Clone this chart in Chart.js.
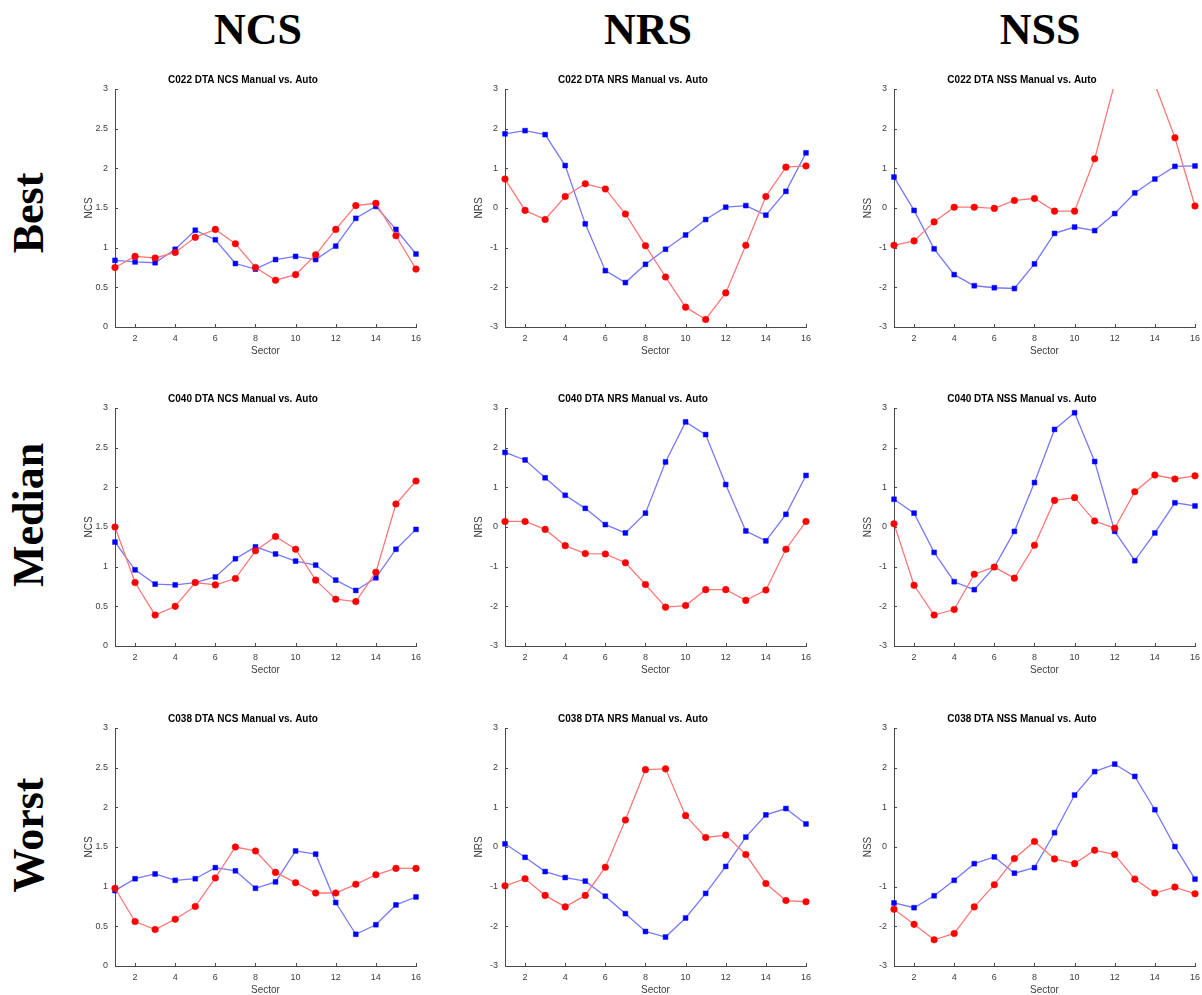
<!DOCTYPE html>
<html>
<head>
<meta charset="utf-8">
<title>DTA Manual vs. Auto</title>
<script src="https://cdn.jsdelivr.net/npm/chart.js@4.4.1/dist/chart.umd.min.js"></script>
<style>
  body {
    margin: 0;
    width: 1202px;
    height: 995px;
    position: relative;
    overflow: hidden;
    background: #fff;
  }
  .col-head, .row-head {
    position: absolute;
    font: bold 44px "Liberation Serif", "Times New Roman", serif;
    line-height: 44px;
    white-space: nowrap;
    color: #000;
  }
  .col-head { top: 8px; transform: translateX(-50%); }
  .row-head { left: 29px; transform: translate(-50%, -50%) rotate(-90deg); }
  canvas { position: absolute; }
</style>
</head>
<body>

<div class="col-head" style="left:258px">NCS</div>
<div class="col-head" style="left:648px">NRS</div>
<div class="col-head" style="left:1040px">NSS</div>
<div class="row-head" style="top:213px">Best</div>
<div class="row-head" style="top:515px">Median</div>
<div class="row-head" style="top:835px">Worst</div>

<canvas id="c00" width="358" height="295"></canvas>
<canvas id="c01" width="358" height="295"></canvas>
<canvas id="c02" width="358" height="295"></canvas>
<canvas id="c10" width="358" height="295"></canvas>
<canvas id="c11" width="358" height="295"></canvas>
<canvas id="c12" width="358" height="295"></canvas>
<canvas id="c20" width="358" height="295"></canvas>
<canvas id="c21" width="358" height="295"></canvas>
<canvas id="c22" width="358" height="295"></canvas>

<script>
// --- data ---
const sectors = [1, 2, 3, 4, 5, 6, 7, 8, 9, 10, 11, 12, 13, 14, 15, 16];
const xTicks = [2, 4, 6, 8, 10, 12, 14, 16];
const ncsTicks = [0, 0.5, 1, 1.5, 2, 2.5, 3];
const signedTicks = [-3, -2, -1, 0, 1, 2, 3];

// Best case: C022
const ncsBestManual = [0.84, 0.82, 0.81, 0.98, 1.22, 1.10, 0.80, 0.73, 0.85, 0.89, 0.85, 1.02, 1.37, 1.52, 1.23, 0.92];
const ncsBestAuto   = [0.75, 0.89, 0.87, 0.94, 1.13, 1.23, 1.05, 0.75, 0.59, 0.66, 0.91, 1.23, 1.53, 1.56, 1.15, 0.73];
const nrsBestManual = [1.87, 1.95, 1.85, 1.07, -0.40, -1.58, -1.88, -1.42, -1.04, -0.68, -0.29, 0.02, 0.06, -0.18, 0.42, 1.39];
const nrsBestAuto   = [0.73, -0.06, -0.29, 0.29, 0.61, 0.48, -0.15, -0.95, -1.74, -2.50, -2.81, -2.14, -0.94, 0.29, 1.03, 1.06];
const nssBestManual = [0.78, -0.06, -1.03, -1.68, -1.96, -2.01, -2.03, -1.41, -0.64, -0.48, -0.57, -0.14, 0.38, 0.73, 1.05, 1.06];
const nssBestAuto   = [-0.94, -0.83, -0.35, 0.02, 0.02, -0.01, 0.19, 0.24, -0.08, -0.08, 1.24, 3.15, 4.0, 3.12, 1.77, 0.05];

// Median case: C040
const ncsMedianManual = [1.31, 0.96, 0.78, 0.77, 0.80, 0.87, 1.10, 1.25, 1.16, 1.07, 1.02, 0.83, 0.70, 0.86, 1.22, 1.47];
const ncsMedianAuto   = [1.50, 0.80, 0.39, 0.50, 0.80, 0.77, 0.85, 1.20, 1.38, 1.22, 0.83, 0.59, 0.56, 0.93, 1.79, 2.08];
const nrsMedianManual = [1.88, 1.69, 1.24, 0.80, 0.47, 0.06, -0.15, 0.35, 1.64, 2.65, 2.33, 1.07, -0.10, -0.35, 0.32, 1.30];
const nrsMedianAuto   = [0.14, 0.14, -0.06, -0.47, -0.67, -0.68, -0.90, -1.45, -2.02, -1.98, -1.58, -1.58, -1.85, -1.59, -0.56, 0.14];
const nssMedianManual = [0.70, 0.35, -0.64, -1.38, -1.58, -1.01, -0.11, 1.12, 2.46, 2.88, 1.65, -0.11, -0.85, -0.15, 0.61, 0.53];
const nssMedianAuto   = [0.08, -1.47, -2.22, -2.08, -1.19, -1.01, -1.29, -0.46, 0.67, 0.74, 0.15, -0.03, 0.89, 1.31, 1.21, 1.29];

// Worst case: C038
const ncsWorstManual = [0.95, 1.10, 1.16, 1.08, 1.10, 1.24, 1.20, 0.98, 1.06, 1.45, 1.41, 0.80, 0.40, 0.52, 0.77, 0.87];
const ncsWorstAuto   = [0.98, 0.56, 0.46, 0.59, 0.75, 1.11, 1.50, 1.45, 1.18, 1.05, 0.92, 0.92, 1.03, 1.15, 1.23, 1.23];
const nrsWorstManual = [0.08, -0.26, -0.62, -0.77, -0.86, -1.24, -1.68, -2.13, -2.27, -1.79, -1.17, -0.49, 0.25, 0.81, 0.97, 0.58];
const nrsWorstAuto   = [-0.98, -0.80, -1.22, -1.51, -1.22, -0.51, 0.68, 1.95, 1.97, 0.79, 0.24, 0.30, -0.19, -0.92, -1.35, -1.38];
const nssWorstManual = [-1.41, -1.53, -1.23, -0.84, -0.42, -0.25, -0.66, -0.52, 0.36, 1.31, 1.90, 2.09, 1.78, 0.94, 0.01, -0.81];
const nssWorstAuto   = [-1.57, -1.95, -2.34, -2.18, -1.51, -0.95, -0.29, 0.14, -0.30, -0.42, -0.08, -0.19, -0.81, -1.16, -1.01, -1.18];

// --- layout ---
const axisColor = '#4a4a4a';
const sansFont = '"Liberation Sans", Arial, Helvetica, sans-serif';
const plotLefts = [115, 505, 894];   // left axis line of each column
const plotTops = [89, 408, 728];     // top (y max) of each row
const yBoxWidth = 45;
const titleBoxHeight = 28;

const panels = [
    { id: 'c00', row: 0, col: 0, title: 'C022 DTA NCS Manual vs. Auto', yLabel: 'NCS', ticks: ncsTicks, manual: ncsBestManual, auto: ncsBestAuto },
    { id: 'c01', row: 0, col: 1, title: 'C022 DTA NRS Manual vs. Auto', yLabel: 'NRS', ticks: signedTicks, manual: nrsBestManual, auto: nrsBestAuto },
    { id: 'c02', row: 0, col: 2, title: 'C022 DTA NSS Manual vs. Auto', yLabel: 'NSS', ticks: signedTicks, manual: nssBestManual, auto: nssBestAuto },
    { id: 'c10', row: 1, col: 0, title: 'C040 DTA NCS Manual vs. Auto', yLabel: 'NCS', ticks: ncsTicks, manual: ncsMedianManual, auto: ncsMedianAuto },
    { id: 'c11', row: 1, col: 1, title: 'C040 DTA NRS Manual vs. Auto', yLabel: 'NRS', ticks: signedTicks, manual: nrsMedianManual, auto: nrsMedianAuto },
    { id: 'c12', row: 1, col: 2, title: 'C040 DTA NSS Manual vs. Auto', yLabel: 'NSS', ticks: signedTicks, manual: nssMedianManual, auto: nssMedianAuto },
    { id: 'c20', row: 2, col: 0, title: 'C038 DTA NCS Manual vs. Auto', yLabel: 'NCS', ticks: ncsTicks, manual: ncsWorstManual, auto: ncsWorstAuto },
    { id: 'c21', row: 2, col: 1, title: 'C038 DTA NRS Manual vs. Auto', yLabel: 'NRS', ticks: signedTicks, manual: nrsWorstManual, auto: nrsWorstAuto },
    { id: 'c22', row: 2, col: 2, title: 'C038 DTA NSS Manual vs. Auto', yLabel: 'NSS', ticks: signedTicks, manual: nssWorstManual, auto: nssWorstAuto }
];

// MATLAB-style tick marks pointing into the plot
const innerTicks = {
    id: 'innerTicks',
    afterDatasetsDraw(chart) {
        const { ctx, chartArea: a, scales: { x, y } } = chart;
        ctx.save();
        ctx.strokeStyle = axisColor;
        ctx.lineWidth = 1;
        ctx.beginPath();
        x.ticks.forEach(t => {
            const px = Math.round(x.getPixelForValue(t.value)) + 0.5;
            ctx.moveTo(px, a.bottom);
            ctx.lineTo(px, a.bottom - 3);
        });
        y.ticks.forEach(t => {
            const py = Math.round(y.getPixelForValue(t.value)) + 0.5;
            ctx.moveTo(a.left, py);
            ctx.lineTo(a.left + 3, py);
        });
        ctx.stroke();
        ctx.restore();
    }
};

const toPoints = vals => sectors.map((s, i) => ({ x: s, y: vals[i] }));

panels.forEach(p => {
    const canvas = document.getElementById(p.id);
    canvas.style.left = (plotLefts[p.col] - yBoxWidth) + 'px';
    canvas.style.top = (plotTops[p.row] - titleBoxHeight) + 'px';

    new Chart(canvas, {
        type: 'line',
        data: {
            datasets: [
                {
                    label: 'Auto',
                    data: toPoints(p.auto),
                    borderColor: '#ff7878',
                    borderWidth: 1.3,
                    pointStyle: 'circle',
                    pointRadius: 3.3,
                    pointBackgroundColor: '#ff0000',
                    pointBorderColor: '#ff0000',
                    pointBorderWidth: 0.5,
                    clip: { left: 10, right: 10, top: 0, bottom: 10 },
                    order: 0
                },
                {
                    label: 'Manual',
                    data: toPoints(p.manual),
                    borderColor: '#7878ff',
                    borderWidth: 1.3,
                    pointStyle: 'rect',
                    pointRadius: 3.4,
                    pointBackgroundColor: '#0000ff',
                    pointBorderColor: '#0000ff',
                    pointBorderWidth: 0.5,
                    clip: { left: 10, right: 10, top: 0, bottom: 10 },
                    order: 1
                }
            ]
        },
        options: {
            responsive: false,
            animation: false,
            events: [],
            layout: { padding: { left: 0, right: 12, top: 0, bottom: 0 } },
            plugins: {
                legend: { display: false },
                tooltip: { enabled: false },
                title: {
                    display: true,
                    text: p.title,
                    color: '#000',
                    font: { family: sansFont, size: 10, weight: 'bold', lineHeight: 1.2 },
                    padding: { top: 13, bottom: 3 }
                }
            },
            scales: {
                x: {
                    type: 'linear',
                    min: 1,
                    max: 16,
                    afterBuildTicks: s => { s.ticks = xTicks.map(v => ({ value: v })); },
                    afterFit: s => { s.height = 29; },
                    grid: { display: false, drawTicks: false },
                    border: { display: true, color: axisColor, width: 1 },
                    ticks: {
                        autoSkip: false,
                        maxRotation: 0,
                        padding: 6,
                        color: '#3c3c3c',
                        font: { family: sansFont, size: 9 }
                    },
                    title: {
                        display: true,
                        text: 'Sector',
                        color: '#3c3c3c',
                        font: { family: sansFont, size: 10, lineHeight: 1 },
                        padding: 0
                    }
                },
                y: {
                    min: p.ticks[0],
                    max: p.ticks[p.ticks.length - 1],
                    afterBuildTicks: s => { s.ticks = p.ticks.map(v => ({ value: v })); },
                    afterFit: s => { s.width = yBoxWidth; },
                    grid: { display: false, drawTicks: false },
                    border: { display: true, color: axisColor, width: 1 },
                    ticks: {
                        padding: 7,
                        color: '#3c3c3c',
                        font: { family: sansFont, size: 9 },
                        callback: v => String(v)
                    },
                    title: {
                        display: true,
                        text: p.yLabel,
                        color: '#3c3c3c',
                        font: { family: sansFont, size: 10, lineHeight: 1.2 },
                        padding: { top: 13, bottom: 0 }
                    }
                }
            }
        },
        plugins: [innerTicks]
    });
});
</script>
</body>
</html>
